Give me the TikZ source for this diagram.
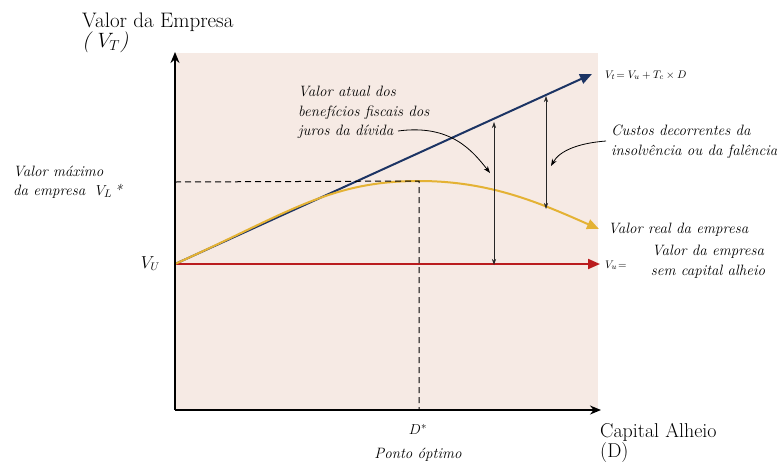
\documentclass[tikz,border=0pt]{standalone}
\usepackage{amsmath}
\usepackage{xcolor}
\usetikzlibrary{arrows.meta}

\definecolor{fundo}{RGB}{246,234,228}
\definecolor{azul}{RGB}{28,52,100}
\definecolor{amarelo}{RGB}{228,178,52}
\definecolor{vermelho}{RGB}{186,28,30}

\begin{document}
\begin{tikzpicture}[x=1pt, y=-1pt,
	every node/.style={inner sep=0pt},
	rotulo/.style={font=\fontsize{15}{19.5}\selectfont\itshape, align=left, anchor=north west},
	titulo/.style={font=\fontsize{21}{20}\selectfont, align=left, anchor=north west},
	formula/.style={font=\fontsize{11}{12}\selectfont\itshape, anchor=base west},
	eixo/.style={line width=1.6pt, -{Stealth[length=11pt,width=9pt]}},
	reta/.style={line width=2pt, -{Triangle[length=12pt,width=10pt]}},
	medida/.style={line width=0.6pt, black!85, {Stealth[length=6pt,width=4pt]}-{Stealth[length=6pt,width=4pt]}},
	guia/.style={line width=1pt, black, dash pattern=on 6pt off 4pt},
	seta/.style={line width=0.8pt, -{Stealth[length=7pt,width=5pt]}}]

	\useasboundingbox (0,0) rectangle (777,467);
	\fill[fundo] (176,53) rectangle (598,410);

	% pontos do grafico
	\coordinate (o) at (175,410);
	\coordinate (vu) at (175,264);
	\coordinate (topo) at (175,52);
	\coordinate (fimx) at (601,410);
	\coordinate (fimazul) at (592,74);
	\coordinate (fimverm) at (600,264);
	\coordinate (pico) at (419,181);
	\coordinate (fimamar) at (599,229);
	\coordinate (dmax) at (175,182);
	\coordinate (dbase) at (419,410);

	% retas
	\draw[reta, azul] (vu) -- (fimazul);
	\draw[reta, vermelho] (vu) -- (fimverm);
	\draw[reta, amarelo] (vu) .. controls (290,212) and (330,181) .. (pico)
		.. controls (490,181) and (540,203) .. (fimamar);
	\draw[guia] (dmax) -- (pico) -- (dbase);

	% eixos
	\draw[eixo] (o) -- (topo);
	\draw[eixo] (o) -- (fimx);

	% medidas
	\coordinate (b1) at (494,122);
	\coordinate (b2) at (494,265);
	\coordinate (c1) at (546,96);
	\coordinate (c2) at (546,209);
	\draw[medida] (b1) -- (b2);
	\draw[medida] (c1) -- (c2);

	% textos
	\node[titulo] (vt) at (82,13) {Valor da Empresa\\\itshape(\,\,$V_T$)};
	\node[rotulo, font=\fontsize{15}{18.5}\selectfont\itshape] (vlmax) at (13,166) {Valor m\'aximo\\da empresa \ $V_L$\,*};
	\node[font=\fontsize{16}{16}\selectfont, anchor=base east] (lvu) at (160,268) {$V_U$};
	\node[rotulo] (atual) at (298,86) {Valor atual dos\\benef\'icios fiscais dos\\juros da d\'ivida};
	\node[formula] (eq) at (605,78) {$V_t\!= V_u + T_c \times D$};
	\node[rotulo] (custos) at (611,125) {Custos decorrentes da\\insolv\^encia ou da fal\^encia};
	\node[rotulo, anchor=base west] (real) at (608,233) {Valor real da empresa};
	\node[formula] (equ) at (605,268) {$V_u\!=$};
	\node[rotulo, align=center, anchor=north] (semca) at (708,245) {Valor da empresa\\sem capital alheio};
	\node[rotulo, align=center, anchor=north] (dest) at (418,424) {$D^*$\\[4pt]Ponto \'optimo};
	\node[titulo, font=\fontsize{20}{18}\selectfont] (capital) at (600,423) {Capital Alheio\\(D)};

	% setas das notas
	\coordinate (na) at (398,131);
	\coordinate (nb) at (490,173);
	\coordinate (nc) at (606,141);
	\coordinate (nd) at (551,166);
	\draw[seta] (na) .. controls (450,124) and (472,150) .. (nb);
	\draw[seta] (nc) .. controls (580,143) and (560,150) .. (nd);
\end{tikzpicture}
\end{document}
